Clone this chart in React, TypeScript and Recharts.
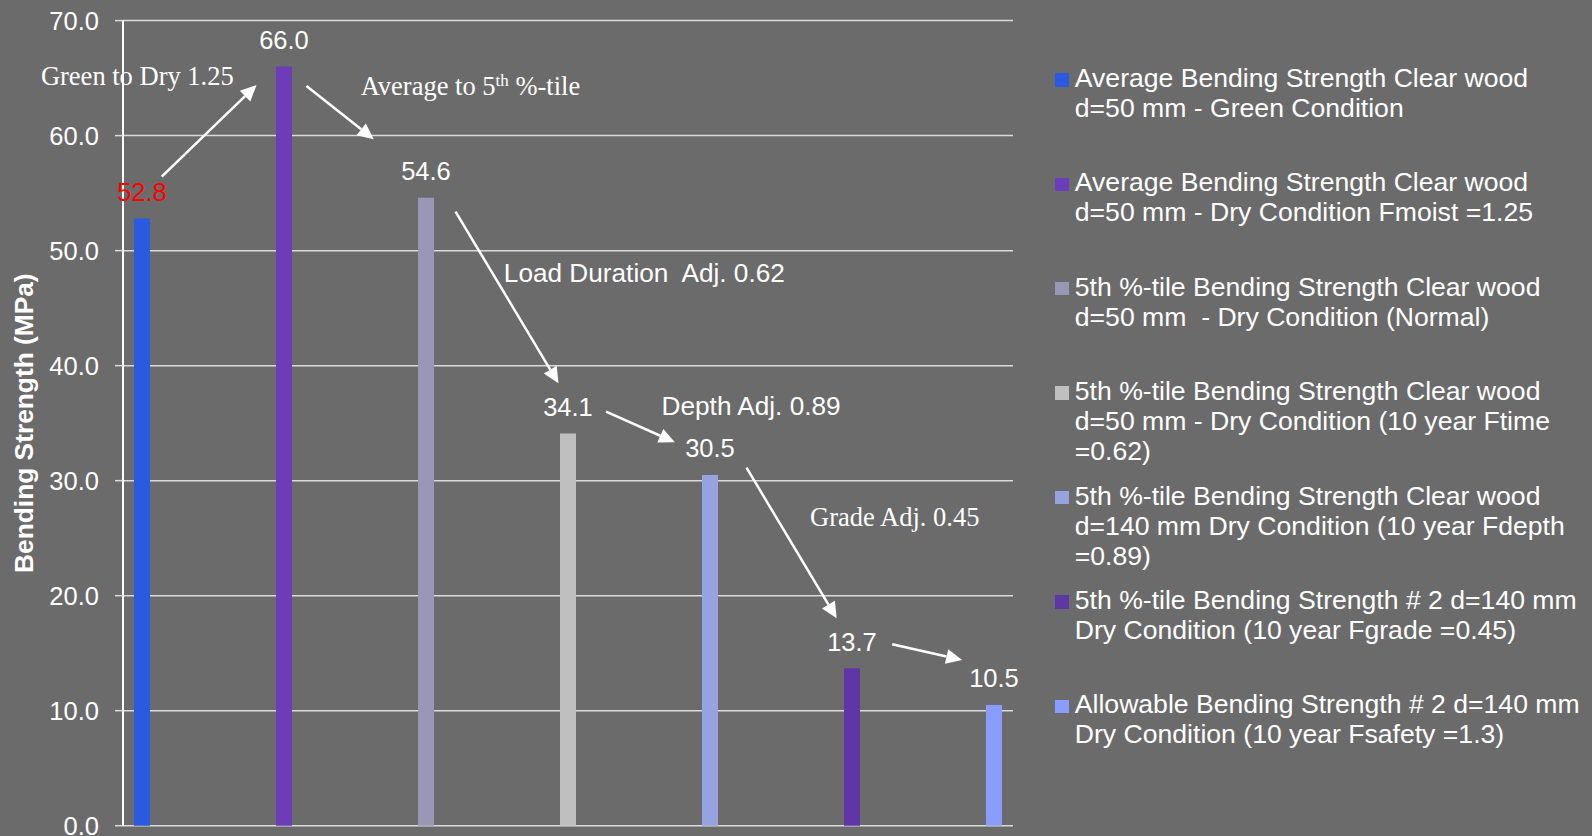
import React from 'react';
import {
  BarChart,
  Bar,
  XAxis,
  YAxis,
  CartesianGrid,
  Legend,
  LabelList,
  ReferenceLine,
  ReferenceDot,
} from 'recharts';

const SANS = '"Liberation Sans", Arial, sans-serif';
const SERIF = '"Liberation Serif", "Times New Roman", serif';

// ---------- data ----------
const categories = ['Bending Strength'];
const seriesNames = [
  'Average Bending Strength Clear wood\nd=50 mm - Green Condition',
  'Average Bending Strength Clear wood\nd=50 mm - Dry Condition Fmoist =1.25',
  '5th %-tile Bending Strength Clear wood\nd=50 mm  - Dry Condition (Normal)',
  '5th %-tile Bending Strength Clear wood\nd=50 mm - Dry Condition (10 year Ftime\n=0.62)',
  '5th %-tile Bending Strength Clear wood\nd=140 mm Dry Condition (10 year Fdepth\n=0.89)',
  '5th %-tile Bending Strength # 2 d=140 mm\nDry Condition (10 year Fgrade =0.45)',
  'Allowable Bending Strength # 2 d=140 mm\nDry Condition (10 year Fsafety =1.3)',
];
const seriesValues = [52.8, 66.0, 54.6, 34.1, 30.5, 13.7, 10.5];
const yTicks = [0, 10, 20, 30, 40, 50, 60, 70];

// ---------- styles ----------
const seriesColors = ['#2A5AE2', '#6C3DB8', '#9898B6', '#BFBFBF', '#97A2E0', '#5E36A6', '#8B9CFF'];
const valueLabelColors = ['#FF0000', '#FFFFFF', '#FFFFFF', '#FFFFFF', '#FFFFFF', '#FFFFFF', '#FFFFFF'];

// ---------- annotations (x in bar-index units, y in MPa) ----------
const arrows = [
  { from: [0.139, 56.43], to: [0.807, 64.4] },
  { from: [1.158, 64.32], to: [1.632, 59.68] },
  { from: [2.208, 53.39], to: [2.933, 38.47] },
  { from: [3.268, 36.0], to: [3.753, 33.34] },
  { from: [4.257, 31.13], to: [4.892, 18.03] },
  { from: [5.283, 15.77], to: [5.776, 14.41] },
];
const notes = [
  { text: 'Green to Dry 1.25', at: [-0.712, 64.4], serif: true },
  { text: 'Average to 5', sup: 'th', rest: ' %-tile', at: [1.54, 63.53], serif: true },
  { text: 'Load Duration  Adj. 0.62', at: [2.548, 47.3], serif: false },
  { text: 'Depth Adj. 0.89', at: [3.659, 35.71], serif: false },
  { text: 'Grade Adj. 0.45', at: [4.705, 26.08], serif: true },
];

const seriesKeys = seriesValues.map((_, i) => `s${i}`);
const chartData = categories.map((c) => {
  const row: Record<string, any> = { category: c };
  seriesValues.forEach((v, i) => {
    row[seriesKeys[i]] = v;
  });
  return row;
});

const ArrowShape = (props: any) => {
  const { x1, y1, x2, y2 } = props;
  const dx = x2 - x1;
  const dy = y2 - y1;
  const len = Math.hypot(dx, dy) || 1;
  const ux = dx / len;
  const uy = dy / len;
  const head = 16;
  const half = 7.5;
  const bx = x2 - ux * head;
  const by = y2 - uy * head;
  return (
    <g>
      <line x1={x1} y1={y1} x2={bx} y2={by} stroke="#FFFFFF" strokeWidth={2.5} />
      <polygon
        points={`${x2},${y2} ${bx - uy * half},${by + ux * half} ${bx + uy * half},${by - ux * half}`}
        fill="#FFFFFF"
      />
    </g>
  );
};

const makeNoteShape = (n: any) => (p: any) => (
  <text
    x={p.cx}
    y={p.cy}
    fill="#FFFFFF"
    fontFamily={n.serif ? SERIF : SANS}
    fontSize={n.serif ? 26.5 : 26.2}
    style={{ whiteSpace: 'pre' }}
  >
    {n.text}
    {n.sup ? (
      <tspan dy={-9} fontSize={17}>
        {n.sup}
      </tspan>
    ) : null}
    {n.rest ? <tspan dy={9}>{n.rest}</tspan> : null}
  </text>
);

const renderLegend = (props: any) => {
  const payload = [...(props.payload || [])].sort(
    (a: any, b: any) => seriesKeys.indexOf(a.dataKey) - seriesKeys.indexOf(b.dataKey)
  );
  return (
    <div
      style={{
        fontFamily: SANS,
        fontSize: 26.6,
        color: '#FFFFFF',
        lineHeight: '30px',
        textAlign: 'left',
      }}
    >
      {payload.map((entry: any, i: number) => (
        <div key={i} style={{ position: 'relative', height: 104.4, paddingLeft: 19.7 }}>
          <span
            style={{
              position: 'absolute',
              left: 0,
              top: 10.2,
              width: 13.5,
              height: 13.4,
              background: entry.color,
            }}
          />
          <div style={{ whiteSpace: 'pre' }}>{entry.value}</div>
        </div>
      ))}
    </div>
  );
};

const renderYTitle = (props: any) => {
  const vb = props.viewBox || { x: 0, y: 20.6, width: 123, height: 805.1 };
  const cx = vb.x + 33;
  const cy = vb.y + vb.height / 2;
  return (
    <text
      x={cx}
      y={cy}
      transform={`rotate(-90, ${cx}, ${cy})`}
      textAnchor="middle"
      fill="#FFFFFF"
      fontFamily={SANS}
      fontWeight="bold"
      fontSize={26.3}
    >
      Bending Strength (MPa)
    </text>
  );
};

export default function App() {
  return (
    <div
      style={{
        position: 'absolute',
        left: 0,
        top: 0,
        width: 1592,
        height: 836,
        background: '#6B6B6B',
        overflow: 'hidden',
      }}
    >
      <BarChart
        width={1592}
        height={836}
        data={chartData}
        margin={{ top: 20.6, right: 579, bottom: 10.3, left: 0 }}
        barGap={126}
      >
        <CartesianGrid
          xAxisId="cat"
          vertical={false}
          stroke="#DADADA"
          strokeWidth={1.5}
        />
        <XAxis xAxisId="cat" dataKey="category" hide />
        <XAxis
          xAxisId="ann"
          dataKey="annX"
          type="number"
          scale="linear"
          domain={[-0.1338, 6.1338]}
          allowDataOverflow
          hide
        />
        <YAxis
          width={123}
          domain={[0, 70]}
          ticks={yTicks}
          interval={0}
          tickFormatter={(v: number) => v.toFixed(1)}
          tick={{ fill: '#FFFFFF', fontSize: 25.5, fontFamily: SANS }}
          tickSize={8}
          tickMargin={16}
          tickLine={{ stroke: '#DADADA', strokeWidth: 1.5 }}
          axisLine={{ stroke: '#FFFFFF', strokeWidth: 2 }}
          label={renderYTitle}
        />
        <Legend
          layout="vertical"
          align="center"
          verticalAlign="middle"
          content={renderLegend}
          wrapperStyle={{ position: 'absolute', left: 1055.1, top: 63.1, width: 535, height: 740 }}
        />
        {seriesKeys.map((k, i) => (
          <Bar
            key={k}
            xAxisId="cat"
            dataKey={k}
            name={seriesNames[i]}
            fill={seriesColors[i]}
            barSize={16}
            isAnimationActive={false}
          >
            <LabelList
              dataKey={k}
              position="top"
              offset={17.5}
              formatter={(v: any) => Number(v).toFixed(1)}
              fill={valueLabelColors[i]}
              fontSize={25.5}
              fontFamily={SANS}
            />
          </Bar>
        ))}
        {arrows.map((a, i) => (
          <ReferenceLine
            key={`arrow-${i}`}
            xAxisId="ann"
            ifOverflow="visible"
            segment={[
              { x: a.from[0], y: a.from[1] },
              { x: a.to[0], y: a.to[1] },
            ]}
            shape={ArrowShape}
          />
        ))}
        {notes.map((n, i) => (
          <ReferenceDot
            key={`note-${i}`}
            xAxisId="ann"
            x={n.at[0]}
            y={n.at[1]}
            r={1}
            ifOverflow="visible"
            shape={makeNoteShape(n)}
          />
        ))}
      </BarChart>
    </div>
  );
}
